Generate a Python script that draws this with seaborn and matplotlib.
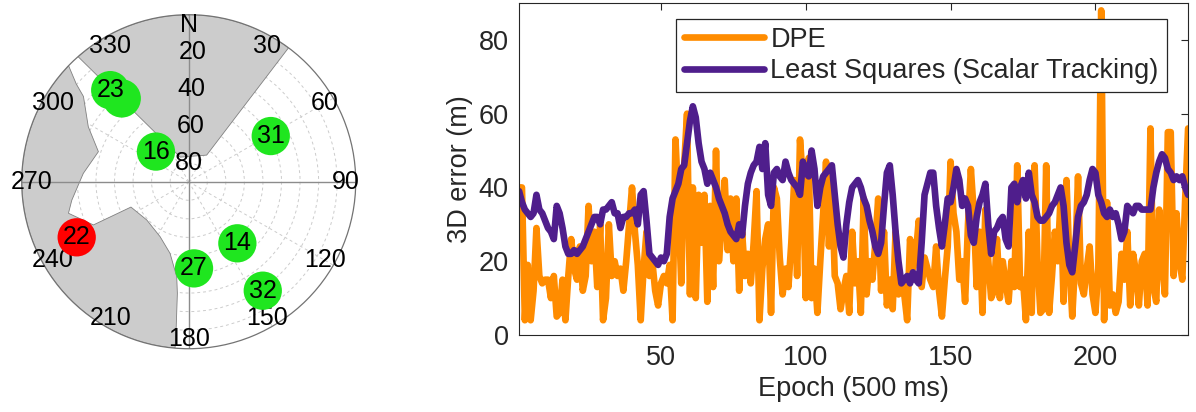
import numpy as np
import pandas as pd
import matplotlib
matplotlib.use("Agg")
import matplotlib.pyplot as plt
import seaborn as sns

# ---------------- data ----------------
dpe = [40, 40, 4, 19, 4, 12, 29, 16, 14, 15,
       15, 10, 16, 5, 6, 15, 4, 16, 26, 18,
       15, 24, 12, 16, 35, 20, 28, 13, 30, 4,
       10, 30, 16, 20, 16, 18, 12, 20, 30, 40,
       28, 19, 4, 18, 28, 16, 20, 12, 8, 14,
       16, 14, 19, 4, 53, 36, 14, 46, 60, 11,
       40, 10, 38, 25, 38, 9, 35, 13, 50, 20,
       30, 42, 23, 37, 20, 37, 12, 28, 16, 22,
       14, 25, 39, 4, 18, 26, 30, 6, 40, 37,
       21, 11, 18, 13, 25, 42, 16, 53, 42, 10,
       48, 10, 18, 6, 20, 33, 47, 24, 42, 16,
       14, 7, 12, 16, 6, 28, 14, 20, 6, 37,
       11, 20, 15, 25, 37, 12, 28, 8, 15, 7,
       28, 11, 15, 11, 4, 26, 18, 22, 31, 13,
       21, 18, 15, 13, 24, 12, 5, 15, 24, 47,
       33, 28, 15, 20, 9, 30, 45, 33, 13, 28,
       6, 34, 20, 10, 12, 26, 10, 20, 14, 9,
       20, 13, 46, 13, 15, 4, 28, 6, 46, 20,
       6, 7, 46, 6, 16, 28, 20, 38, 9, 42,
       20, 5, 20, 43, 14, 11, 18, 24, 11, 6,
       18, 88, 4, 36, 8, 11, 6, 9, 22, 15,
       28, 8, 22, 17, 8, 20, 22, 8, 56, 13,
       9, 34, 20, 11, 55, 55, 16, 33, 20, 15,
       37, 56]

least_squares = [39, 36, 34, 33, 32, 33, 38, 34, 33, 31,
                 29, 28, 26, 35, 33, 29, 24, 22, 22, 23,
                 22, 23, 24, 26, 28, 30, 32, 32, 30, 34,
                 34, 35, 36, 33, 33, 29, 32, 32, 33, 33,
                 34, 30, 38, 39, 31, 22, 21, 20, 19, 21,
                 20, 22, 32, 37, 39, 41, 45, 46, 52, 58,
                 62, 59, 52, 47, 45, 41, 44, 42, 40, 37,
                 35, 33, 30, 28, 27, 26, 30, 27, 35, 41,
                 44, 46, 47, 51, 45, 52, 38, 35, 44, 45,
                 43, 42, 47, 44, 42, 41, 40, 38, 47, 44,
                 43, 50, 45, 35, 40, 43, 44, 45, 46, 38,
                 30, 24, 21, 30, 36, 40, 41, 42, 40, 37,
                 35, 31, 28, 24, 22, 25, 35, 44, 46, 38,
                 28, 20, 14, 15, 16, 14, 17, 15, 14, 25,
                 38, 41, 44, 44, 35, 29, 24, 30, 37, 36,
                 40, 45, 42, 35, 37, 35, 27, 25, 32, 36,
                 38, 41, 30, 22, 28, 29, 31, 32, 26, 24,
                 40, 41, 36, 40, 42, 37, 44, 38, 36, 32,
                 31, 31, 32, 33, 35, 36, 38, 40, 35, 25,
                 19, 17, 24, 32, 35, 36, 38, 42, 45, 44,
                 38, 36, 33, 32, 34, 32, 33, 30, 26, 28,
                 35, 34, 33, 35, 35, 34, 34, 34, 34, 40,
                 44, 47, 49, 48, 45, 44, 42, 43, 42, 43,
                 40, 38]

epochs = list(range(1, len(dpe) + 1))
series_names = ["DPE", "Least Squares (Scalar Tracking)"]

# satellites (azimuth deg, elevation deg)
sat_prn = ["", "23", "16", "31", "22", "14", "27", "32"]
sat_az = [321.2, 319.4, 312.6, 60.9, 243.6, 141.7, 176.5, 145.8]
sat_el = [32.4, 25.0, 66.0, 39.4, 22.6, 47.7, 43.2, 19.0]
sat_state = ["ok", "ok", "ok", "ok", "blocked", "ok", "ok", "ok"]

# sky mask (obstruction) polygons: azimuth / elevation of boundary vertices
mask1_az = [318.5, 341.0, 34.0, 36.7]
mask1_el = [0.0, 76.0, 72.7, 0.0]
mask2_az = [314.0, 311.0, 309.0, 298.7, 288.4, 274.5, 261.0, 255.3, 245.6,
            246.3, 227.6, 207.5, 194.6, 187.2, 185.8, 184.8, 184.7]
mask2_el = [0.0, 9.7, 17.0, 28.3, 38.7, 33.0, 26.2, 23.0, 33.6,
            56.0, 59.4, 56.6, 50.1, 38.4, 29.5, 8.0, 0.0]

az_labels = ["N", "30", "60", "90", "120", "150", "180", "210", "240", "270", "300", "330"]
el_labels = ["20", "40", "60", "80"]

# ---------------- style ----------------
sns.set_theme(style="white")
plt.rcParams["font.family"] = ["Liberation Sans", "DejaVu Sans"]
FS = 19.5
FSP = 18

fig = plt.figure(figsize=(11.96, 4.12), dpi=100)

# ---------------- sky plot ----------------
axp = fig.add_axes([0.01814, 0.1536, 0.2793, 0.8107], projection="polar")
axp.set_theta_zero_location("N")
axp.set_theta_direction(-1)
axp.set_rlim(0, 90)
axp.set_rgrids(np.arange(10, 90, 10), labels=[""] * 8)
axp.set_thetagrids(np.arange(0, 360, 30), labels=[""] * 12)
axp.grid(True, color="0.8", linestyle=(0, (3, 3)), linewidth=0.7)
axp.spines["polar"].set_color("0.45")
axp.spines["polar"].set_linewidth(0.9)
axp.set_facecolor("white")


def mask_poly(az, el, arc_from, arc_to):
    th = list(np.deg2rad(az))
    rr = [90 - e for e in el]
    a = np.linspace(arc_from, arc_to, 60)
    th += list(np.deg2rad(a))
    rr += [90] * len(a)
    return th, rr


t1, r1 = mask_poly(mask1_az, mask1_el, 36.7, 318.5 - 360)
t2, r2 = mask_poly(mask2_az, mask2_el, 184.7, 314.0)
for t, r in ((t1, r1), (t2, r2)):
    axp.fill(t, r, facecolor="#cccccc", edgecolor="0.5", linewidth=0.6, zorder=1)

# main axes lines
axp.plot([0, np.pi], [90, 90], color="0.55", linewidth=1.0, zorder=2)
axp.plot([np.pi / 2, 3 * np.pi / 2], [90, 90], color="0.55", linewidth=1.0, zorder=2)

for i, lab in enumerate(az_labels):
    axp.text(np.deg2rad(i * 30), 84.5, lab, ha="center", va="center",
             fontsize=FSP, color="black", zorder=3)
for i, lab in enumerate(el_labels):
    axp.text(0.03, 90 - int(lab), lab, ha="center", va="center",
             fontsize=FSP, color="black", zorder=3)

sats = pd.DataFrame({
    "theta": np.deg2rad(sat_az),
    "r": [90 - e for e in sat_el],
    "state": sat_state,
    "prn": sat_prn,
})
sns.scatterplot(data=sats, x="theta", y="r", hue="state",
                palette={"ok": "#1fe61f", "blocked": "#ff0000"},
                s=760, linewidth=0, legend=False, ax=axp, zorder=4)
for _, row in sats.iterrows():
    if row["prn"]:
        axp.text(row["theta"], row["r"], row["prn"], ha="center", va="center",
                 fontsize=FSP, color="black", zorder=5)
axp.set_xlabel("")
axp.set_ylabel("")
axp.set_rlim(0, 90)

# ---------------- error plot ----------------
ax = fig.add_axes([0.434, 0.1869, 0.5594, 0.8058])
df = pd.DataFrame({
    "Epoch": epochs * 2,
    "err": dpe + least_squares,
    "method": [series_names[0]] * len(dpe) + [series_names[1]] * len(least_squares),
})
sns.lineplot(data=df, x="Epoch", y="err", hue="method",
             palette={series_names[0]: "#ff8c00", series_names[1]: "#4f1e8c"},
             linewidth=4.8, ax=ax, legend=False)

ax.set_xlim(1, 232)
ax.set_ylim(0, 90)
ax.set_xticks([50, 100, 150, 200])
ax.set_yticks([0, 20, 40, 60, 80])
ax.tick_params(direction="in", length=5, width=0.8, top=True, right=True,
               labelsize=FS, colors="0.15", pad=7.5)
for sp in ax.spines.values():
    sp.set_color("0.15")
    sp.set_linewidth(0.8)
ax.set_xlabel("Epoch (500 ms)", fontsize=FS, color="0.15", labelpad=3)
ax.set_ylabel("3D error (m)", fontsize=FS, color="0.15", labelpad=4)

handles = [plt.Line2D([], [], color="#ff8c00", linewidth=4.8),
           plt.Line2D([], [], color="#4f1e8c", linewidth=4.8)]
leg = ax.legend(handles, series_names, loc="upper right",
                bbox_to_anchor=(0.968, 0.953), borderaxespad=0,
                fontsize=FS, frameon=True, fancybox=False, framealpha=1,
                edgecolor="0.15", handlelength=2.95, handletextpad=0.25,
                labelspacing=0.2, borderpad=0.3)
leg.get_frame().set_linewidth(0.9)

fig.savefig("out.png", dpi=100)
